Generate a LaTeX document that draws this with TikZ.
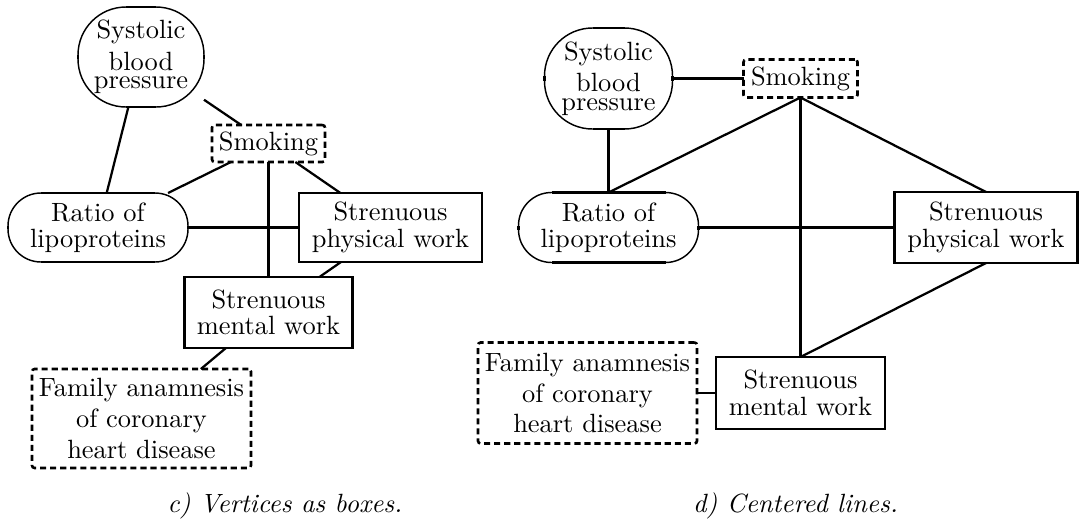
\documentclass[tikz,border=0pt]{standalone}
\newcommand\pxu[1]{#1*0.3788pt}
% straight parts of a rounded outline, drawn heavier than its arcs
\newcommand\drawflats[2]{%
  \draw[flat] ([xshift=\pxu{#2}]#1.north west) -- ([xshift=-\pxu{#2}]#1.north east)
              ([xshift=\pxu{#2}]#1.south west) -- ([xshift=-\pxu{#2}]#1.south east)
              ([yshift=-\pxu{#2}]#1.north west) -- ([yshift=\pxu{#2}]#1.south west)
              ([yshift=-\pxu{#2}]#1.north east) -- ([yshift=\pxu{#2}]#1.south east);}
\tikzset{
  every node/.style={inner sep=0pt, outer sep=0pt, align=center,
                     font=\fontsize{10}{10}\selectfont},
  solidbox/.style={draw, line width=1.1pt},
  dashbox/.style={draw, line width=1pt, dash pattern=on 2.3pt off 1.5pt,
                  rounded corners=1pt},
  roundbox/.style={draw, line width=0.55pt, rounded corners=\pxu{#1}},
  flat/.style={line width=1.1pt},
  straightlink/.style={line width=1.1pt},
  slantlink/.style={line width=0.85pt},
  caption/.style={font=\fontsize{10}{12}\selectfont\itshape, anchor=base},
}
\begin{document}
\begin{tikzpicture}[x=0.3788pt, y=-0.3788pt]
\useasboundingbox (0,0) rectangle (1080,524);

% ---- c) vertices as boxes ----
\node[roundbox=48, minimum width=\pxu{126}, minimum height=\pxu{100},
      font=\fontsize{10}{12}\selectfont] (sbpL) at (141,57)
      {Systolic\\blood\\[-5pt]pressure};
\node[dashbox, minimum width=\pxu{113}, minimum height=\pxu{37}] (smkL) at (268.5,143.5) {Smoking};
\node[roundbox=33, minimum width=\pxu{180}, minimum height=\pxu{69}] (ratL) at (98,227.5)
      {Ratio of\\lipoproteins};
\node[solidbox, minimum width=\pxu{183}, minimum height=\pxu{69}] (phyL) at (390.5,227.5)
      {Strenuous\\physical work};
\node[solidbox, minimum width=\pxu{168}, minimum height=\pxu{71}] (menL) at (268.5,312.5)
      {Strenuous\\mental work};
\node[dashbox, minimum width=\pxu{219}, minimum height=\pxu{99},
      font=\fontsize{10}{11.7}\selectfont] (famL) at (141.5,418.5)
      {Family anamnesis\\of coronary\\heart disease};
\drawflats{sbpL}{48}
\drawflats{ratL}{33}

\draw[slantlink] (sbpL) -- (smkL);
\draw[slantlink] (sbpL) -- (ratL);
\draw[slantlink] (smkL) -- (ratL);
\draw[slantlink] (smkL) -- (phyL);
\draw[straightlink] (smkL) -- (menL);
\draw[straightlink] (ratL) -- (phyL);
\draw[slantlink] (phyL) -- (menL);
\draw[slantlink] (menL) -- (famL);

\node[caption] (capL) at (285,512) {c) Vertices as boxes.};

% ---- d) centered lines ----
\node[roundbox=48, minimum width=\pxu{128}, minimum height=\pxu{101},
      font=\fontsize{10}{12}\selectfont] (sbpR) at (608.5,78.5)
      {Systolic\\blood\\[-5pt]pressure};
\node[dashbox, minimum width=\pxu{114}, minimum height=\pxu{38}] (smkR) at (800.5,78.5) {Smoking};
\node[roundbox=33, minimum width=\pxu{180}, minimum height=\pxu{70}] (ratR) at (608.5,227.5)
      {Ratio of\\lipoproteins};
\node[solidbox, minimum width=\pxu{183}, minimum height=\pxu{71}] (phyR) at (986,227.5)
      {Strenuous\\physical work};
\node[solidbox, minimum width=\pxu{169}, minimum height=\pxu{72}] (menR) at (800.5,393)
      {Strenuous\\mental work};
\node[dashbox, minimum width=\pxu{219}, minimum height=\pxu{101},
      font=\fontsize{10}{11.7}\selectfont] (famR) at (587.5,393)
      {Family anamnesis\\of coronary\\heart disease};
\drawflats{sbpR}{48}
\drawflats{ratR}{33}

\draw[straightlink] (sbpR.east) -- (smkR.west);
\draw[straightlink] (sbpR.south) -- (ratR.north);
\draw[slantlink] (smkR.south) -- (ratR.north);
\draw[slantlink] (smkR.south) -- (phyR.north);
\draw[straightlink] (smkR.south) -- (menR.north);
\draw[straightlink] (ratR.east) -- (phyR.west);
\draw[slantlink] (phyR.south) -- (menR.north);
\draw[straightlink] (famR.east) -- (menR.west);

\node[caption] (capR) at (795.5,512) {d) Centered lines.};
\end{tikzpicture}
\end{document}
